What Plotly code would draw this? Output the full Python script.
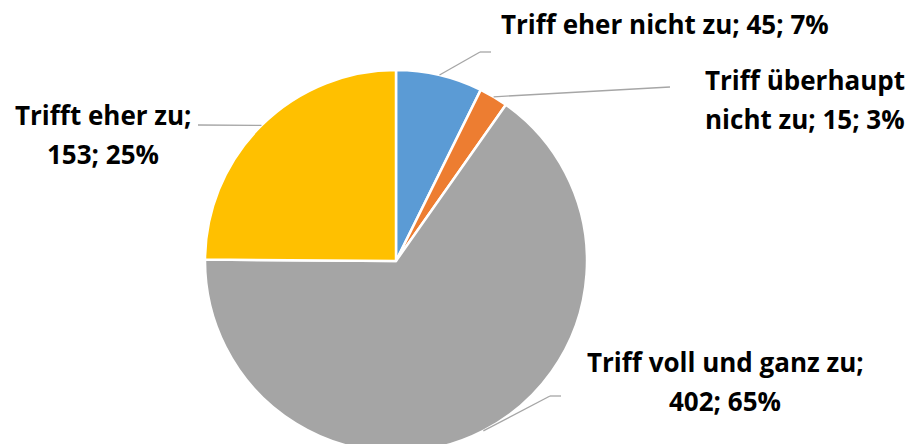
import math
import plotly.graph_objects as go

# chart data
labels = ["Triff eher nicht zu", "Triff überhaupt nicht zu", "Triff voll und ganz zu", "Trifft eher zu"]
values = [45, 15, 402, 153]
percents = [7, 3, 65, 25]
colors = ["#5B9BD5", "#ED7D31", "#A5A5A5", "#FFC000"]

# label layout: (line break texts, centre x, first line y, leader end points) in px
W, H = 917, 522
CX, CY, R = 396, 261, 191
label_lines = [
    ["Triff eher nicht zu; 45; 7%"],
    ["Triff überhaupt", "nicht zu; 15; 3%"],
    ["Triff voll und ganz zu;", "402; 65%"],
    ["Trifft eher zu;", "153; 25%"],
]
label_pos = [(665, 24), (805, 80), (725, 362), (103, 115)]
leader_ends = [[(480, 52), (491, 52)], [(670, 87)], [(550, 396), (561, 396)], [(198, 125)]]
LINE_H = 39


def px(x, y):
    return x / W, 1 - y / H


fig = go.Figure(
    go.Pie(
        labels=labels,
        values=values,
        sort=False,
        direction="clockwise",
        rotation=0,
        marker=dict(colors=colors, line=dict(color="white", width=2.5)),
        textinfo="none",
        hoverinfo="label+value+percent",
        domain=dict(x=[(CX - R) / W, (CX + R) / W], y=[1 - (CY + R) / H, 1 - (CY - R) / H]),
        showlegend=False,
    )
)

annotations = []
shapes = []
total = sum(values)
cum = 0
for i, v in enumerate(values):
    mid = (cum + v / 2) / total * 2 * math.pi
    cum += v
    sx = CX + R * math.sin(mid)
    sy = CY - R * math.cos(mid)
    pts = [(sx, sy)] + leader_ends[i]
    for (x0, y0), (x1, y1) in zip(pts[:-1], pts[1:]):
        a0, b0 = px(x0, y0)
        a1, b1 = px(x1, y1)
        shapes.append(dict(type="line", xref="paper", yref="paper", x0=a0, y0=b0, x1=a1, y1=b1,
                           line=dict(color="#A6A6A6", width=1.3)))
    lx, ly = label_pos[i]
    for j, line in enumerate(label_lines[i]):
        ax, ay = px(lx, ly + j * LINE_H)
        annotations.append(dict(text=f"<b>{line}</b>", x=ax, y=ay, xref="paper", yref="paper",
                                xanchor="center", yanchor="middle", showarrow=False,
                                font=dict(family="Open Sans", size=26, color="#000000")))

fig.update_layout(
    width=W,
    height=H,
    margin=dict(l=0, r=0, t=0, b=0),
    paper_bgcolor="white",
    plot_bgcolor="white",
    annotations=annotations,
    shapes=shapes,
)

fig.write_html("out.html", config={"displayModeBar": False},
               post_script="document.body.style.margin='0';document.body.style.overflow='hidden';")
